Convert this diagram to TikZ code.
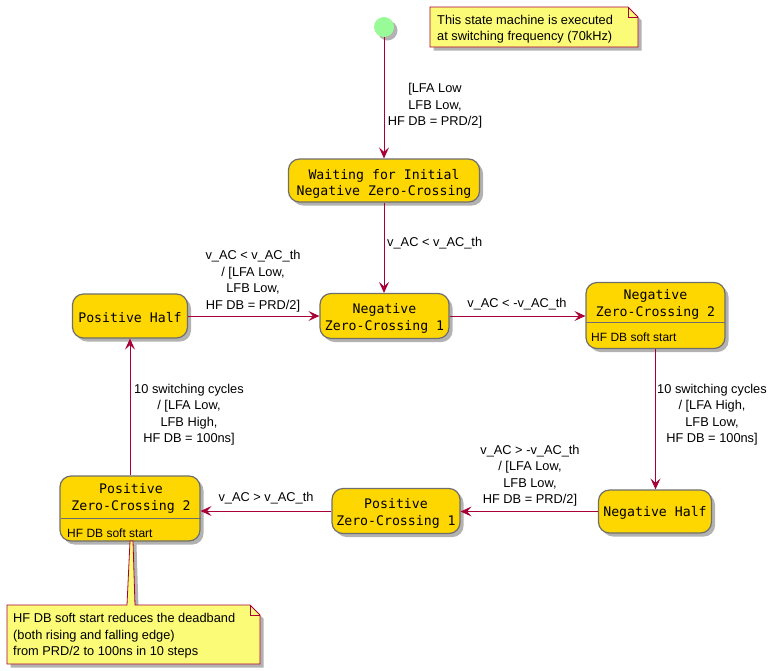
\documentclass[tikz,border=0pt]{standalone}
\usepackage{fontspec}
\setmainfont{Liberation Sans}
\newfontfamily\monof{DejaVu Sans Mono}
\usetikzlibrary{arrows.meta,shadows}
\definecolor{stfill}{HTML}{FFD700}
\definecolor{stborder}{HTML}{6E6E6E}
\definecolor{arr}{HTML}{A80036}
\definecolor{notefill}{HTML}{FBFB77}
\definecolor{startc}{HTML}{98FB98}
\tikzset{
  shad/.style={drop shadow={shadow xshift=3.5pt,shadow yshift=-3.5pt,opacity=0.3,fill=black}},
  state/.style={draw=stborder,fill=stfill,line width=1.2pt,rounded corners=11pt,shad,inner sep=0pt},
  stname/.style={font=\monof\fontsize{13.2}{16.5}\selectfont,align=center,inner sep=0pt},
  stbody/.style={font=\fontsize{12}{15}\selectfont,inner sep=0pt,anchor=west},
  lbl/.style={font=\fontsize{12.8}{16.5}\selectfont,align=center,inner sep=0pt},
  notetext/.style={font=\fontsize{12.8}{16.5}\selectfont,align=left,inner sep=0pt,anchor=west},
  flow/.style={draw=arr,line width=0.9pt,-{Stealth[length=11pt,width=10pt,inset=4.5pt]}},
  notestyle/.style={draw=arr,fill=notefill,line width=0.8pt},
  divider/.style={draw=stborder,line width=1.2pt},
}
\begin{document}
\begin{tikzpicture}[x=1pt,y=-1pt]
\useasboundingbox (0,0) rectangle (776,670);

% start
\node[circle,fill=startc,minimum size=20pt,inner sep=0pt,shad] (start) at (384,27) {};

% top note
\path[notestyle,shad] (430,7) -- (628,7) -- (638,17) -- (638,47) -- (430,47) -- cycle;
\draw[draw=arr,line width=0.8pt] (628,7) -- (628,17) -- (638,17);
\node[notetext] (note1) at (437,29) {This state machine is executed\\at switching frequency (70kHz)};

% states
\node[state,minimum width=191pt,minimum height=43pt] (wait) at (384,180.5) {};
\node[stname] (waitt) at (384,184) {Waiting for Initial\\Negative Zero-Crossing};
\node[state,minimum width=129pt,minimum height=45pt] (nzc1) at (384.5,316) {};
\node[stname] (nzc1t) at (384.5,318.5) {Negative\\Zero-Crossing 1};
\node[state,minimum width=115pt,minimum height=44pt] (ph) at (130,316) {};
\node[stname] (pht) at (130,317.5) {Positive Half};
\node[state,minimum width=139pt,minimum height=66pt] (nzc2) at (655.5,315.5) {};
\node[stname] (nzc2t) at (655.5,304.5) {Negative\\Zero-Crossing 2};
\draw[divider] (586,322.5) -- (725,322.5);
\node[stbody] (nzc2b) at (591,337) {HF DB soft start};
\node[state,minimum width=113pt,minimum height=43pt] (nh) at (655,511.5) {};
\node[stname] (nht) at (655,513) {Negative Half};
\node[state,minimum width=128pt,minimum height=45pt] (pzc1) at (396,511) {};
\node[stname] (pzc1t) at (396,513.5) {Positive\\Zero-Crossing 1};
\node[state,minimum width=140pt,minimum height=65pt] (pzc2) at (130,508.5) {};
\node[stname] (pzc2t) at (131,498.5) {Positive\\Zero-Crossing 2};
\draw[divider] (61,518.5) -- (201,518.5);
\node[stbody] (pzc2b) at (67,533) {HF DB soft start};

% bottom note
\path[notestyle,shad] (7,605) -- (127,605) -- (130,541) -- (133,541) -- (135,605) -- (250,605) -- (260,615) -- (260,664) -- (7,664) -- cycle;
\draw[draw=arr,line width=0.8pt] (250,605) -- (250,615) -- (260,615);
\node[notetext] (note2) at (13,636) {HF DB soft start reduces the deadband\\(both rising and falling edge)\\from PRD/2 to 100ns in 10 steps};

% connectors
\draw[flow] (start) -- (wait);
\draw[flow] (wait.south) -- (wait.south |- nzc1.north);
\draw[flow] (ph.east) -- (nzc1.west);
\draw[flow] (nzc1.east) -- (nzc1.east -| nzc2.west);
\draw[flow] (nzc2.south) -- (nzc2.south |- nh.north);
\draw[flow] (nh.west) -- (nh.west -| pzc1.east);
\draw[flow] (pzc1.west) -- (pzc1.west -| pzc2.east);
\draw[flow] (pzc2.north) -- (pzc2.north |- ph.south);

% labels
\node[lbl] (l1) at (435,106) {[LFA Low\\LFB Low,\\HF DB = PRD/2]};
\node[lbl,anchor=west] (l2) at (387,243.5) {v\_AC < v\_AC\_th};
\node[lbl] (l3) at (253,281) {v\_AC < v\_AC\_th\\/ [LFA Low,\\LFB Low,\\HF DB = PRD/2]};
\node[lbl] (l4) at (517,304.5) {v\_AC < -v\_AC\_th};
\node[lbl] (l5) at (712,414.5) {10 switching cycles\\/ [LFA High,\\LFB Low,\\HF DB = 100ns]};
\node[lbl] (l6) at (530,475.5) {v\_AC > -v\_AC\_th\\/ [LFA Low,\\LFB Low,\\HF DB = PRD/2]};
\node[lbl] (l7) at (266,498.5) {v\_AC > v\_AC\_th};
\node[lbl] (l8) at (189,414.5) {10 switching cycles\\/ [LFA Low,\\LFB High,\\HF DB = 100ns]};
\end{tikzpicture}
\end{document}
